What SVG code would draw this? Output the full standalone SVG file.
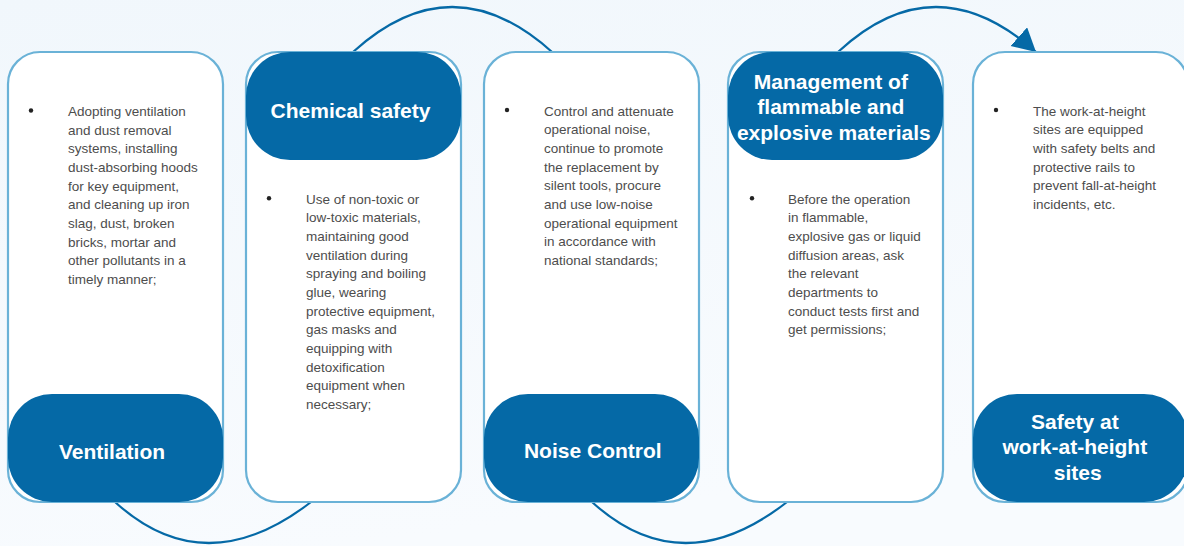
<svg xmlns="http://www.w3.org/2000/svg" width="1184" height="546" viewBox="0 0 1184 546">
<defs>
<linearGradient id="bg" x1="0" y1="0" x2="0.3" y2="1">
<stop offset="0" stop-color="#f1f7fc"/>
<stop offset="1" stop-color="#f8fbfe"/>
</linearGradient>
<marker id="arrow" markerUnits="userSpaceOnUse" markerWidth="26" markerHeight="26" refX="23" refY="12.5" orient="auto" viewBox="0 0 26 26">
<path d="M0,0 L23,12.5 L0,25 z" fill="#0569a6"/>
</marker>
<style>
.card{fill:#ffffff;stroke:#6ab2d7;stroke-width:2.2}
.lab{fill:#0569a6}
.title{font-family:"Liberation Sans",Arial,sans-serif;font-weight:bold;font-size:21px;fill:#ffffff;text-anchor:middle}
.body{font-family:"Liberation Sans",Arial,sans-serif;font-size:13.5px;fill:#4d4d4d}
.dot{fill:#222222}
.conn{fill:none;stroke:#0569a6;stroke-width:2.2}
</style>
</defs>
<rect x="0" y="0" width="1184" height="546" fill="url(#bg)"/>

<g id="connectors">
<path class="conn" d="M115,502 Q205,584 311,502"/>
<path class="conn" d="M353,52 Q452,-38 552,52"/>
<path class="conn" d="M592,502 Q682,584 787,502"/>
<path class="conn" d="M838,52 Q935,-38 1036,52" marker-end="url(#arrow)"/>
</g>

<g id="node-ventilation">
<rect class="card" x="8" y="52" width="215" height="450" rx="32"/>
<circle class="dot" cx="31" cy="110.5" r="2.2"/>
<text class="body">
<tspan x="68" y="116">Adopting ventilation</tspan>
<tspan x="68" y="134.7">and dust removal</tspan>
<tspan x="68" y="153.3">systems, installing</tspan>
<tspan x="68" y="172">dust-absorbing hoods</tspan>
<tspan x="68" y="190.7">for key equipment,</tspan>
<tspan x="68" y="209.3">and cleaning up iron</tspan>
<tspan x="68" y="228">slag, dust, broken</tspan>
<tspan x="68" y="246.7">bricks, mortar and</tspan>
<tspan x="68" y="265.3">other pollutants in a</tspan>
<tspan x="68" y="284">timely manner;</tspan>
</text>
<rect class="lab" x="8" y="394" width="215" height="108" rx="44"/>
<text class="title" x="112" y="459.3">Ventilation</text>
</g>

<g id="node-chemical">
<rect class="card" x="246" y="52" width="215" height="450" rx="32"/>
<rect class="lab" x="246" y="52" width="215" height="108" rx="44"/>
<text class="title" x="350.5" y="117.6">Chemical safety</text>
<circle class="dot" cx="269" cy="198.3" r="2.2"/>
<text class="body">
<tspan x="306" y="203.7">Use of non-toxic or</tspan>
<tspan x="306" y="222.4">low-toxic materials,</tspan>
<tspan x="306" y="241">maintaining good</tspan>
<tspan x="306" y="259.7">ventilation during</tspan>
<tspan x="306" y="278.4">spraying and boiling</tspan>
<tspan x="306" y="297">glue, wearing</tspan>
<tspan x="306" y="315.7">protective equipment,</tspan>
<tspan x="306" y="334.4">gas masks and</tspan>
<tspan x="306" y="353">equipping with</tspan>
<tspan x="306" y="371.7">detoxification</tspan>
<tspan x="306" y="390.4">equipment when</tspan>
<tspan x="306" y="409">necessary;</tspan>
</text>
</g>

<g id="node-noise">
<rect class="card" x="484" y="52" width="215" height="450" rx="32"/>
<circle class="dot" cx="507" cy="110" r="2.2"/>
<text class="body">
<tspan x="544" y="115.5">Control and attenuate</tspan>
<tspan x="544" y="134.2">operational noise,</tspan>
<tspan x="544" y="152.8">continue to promote</tspan>
<tspan x="544" y="171.5">the replacement by</tspan>
<tspan x="544" y="190.2">silent tools, procure</tspan>
<tspan x="544" y="208.8">and use low-noise</tspan>
<tspan x="544" y="227.5">operational equipment</tspan>
<tspan x="544" y="246.2">in accordance with</tspan>
<tspan x="544" y="264.8">national standards;</tspan>
</text>
<rect class="lab" x="484" y="394" width="215" height="108" rx="44"/>
<text class="title" x="592.8" y="458.3">Noise Control</text>
</g>

<g id="node-flammable">
<rect class="card" x="728" y="52" width="215" height="450" rx="32"/>
<rect class="lab" x="728" y="52" width="215" height="108" rx="44"/>
<text class="title">
<tspan x="833.8" y="89.3">Management of</tspan>
<tspan x="833.8" y="114.3">flammable and</tspan>
<tspan x="833.8" y="140.3">explosive materials</tspan>
</text>
<circle class="dot" cx="752" cy="198.3" r="2.2"/>
<text class="body">
<tspan x="788" y="203.7">Before the operation</tspan>
<tspan x="788" y="222.4">in flammable,</tspan>
<tspan x="788" y="241">explosive gas or liquid</tspan>
<tspan x="788" y="259.7">diffusion areas, ask</tspan>
<tspan x="788" y="278.4">the relevant</tspan>
<tspan x="788" y="297">departments to</tspan>
<tspan x="788" y="315.7">conduct tests first and</tspan>
<tspan x="788" y="334.4">get permissions;</tspan>
</text>
</g>

<g id="node-height">
<rect class="card" x="973" y="52" width="215" height="450" rx="32"/>
<circle class="dot" cx="996" cy="110" r="2.2"/>
<text class="body">
<tspan x="1033" y="115.5">The work-at-height</tspan>
<tspan x="1033" y="134.2">sites are equipped</tspan>
<tspan x="1033" y="152.8">with safety belts and</tspan>
<tspan x="1033" y="171.5">protective rails to</tspan>
<tspan x="1033" y="190.2">prevent fall-at-height</tspan>
<tspan x="1033" y="208.8">incidents, etc.</tspan>
</text>
<rect class="lab" x="973" y="394" width="215" height="108" rx="44"/>
<text class="title">
<tspan x="1077.8" y="429.3">Safety at</tspan>
<tspan x="1077.8" y="454.3">work-at-height</tspan>
<tspan x="1077.8" y="480.3">sites</tspan>
</text>
</g>
</svg>
